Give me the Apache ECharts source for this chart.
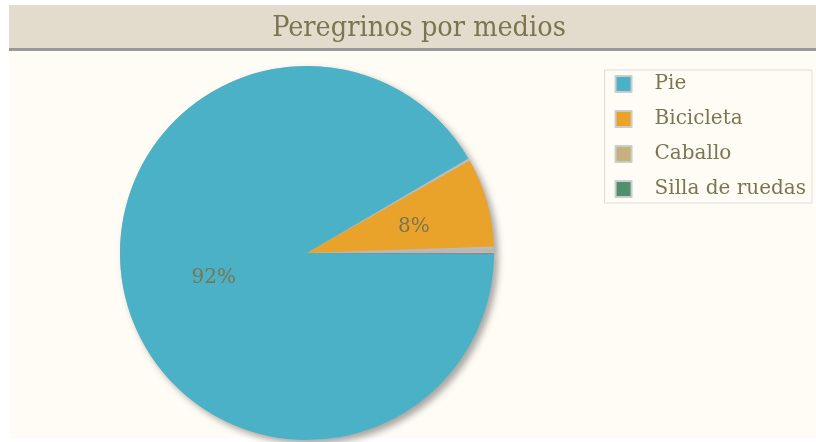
<!DOCTYPE html>
<html>
<head>
<meta charset="utf-8">
<script src="https://cdn.jsdelivr.net/npm/echarts@6/dist/echarts.min.js"></script>
<style>
  html, body { margin: 0; padding: 0; background: #ffffff; }
  #chart { width: 816px; height: 442px; }
</style>
</head>
<body>
<div id="chart"></div>
<script>
  // Chart data
  const titleText = 'Peregrinos por medios';
  const categories = ['Pie', 'Bicicleta', 'Caballo', 'Silla de ruedas'];
  const values = [91.9, 7.9, 0.1, 0.1];
  const colors = ['#4ab1c6', '#e9a22a', '#c7b07c', '#50906e'];

  const textColor = '#7d7552';
  const serif = '"DejaVu Serif Condensed", "DejaVu Serif", serif';
  const serifWide = '"DejaVu Serif", serif';

  const myChart = echarts.init(document.getElementById('chart'));

  const pieBase = {
    type: 'pie',
    center: [307, 253],
    radius: 187,
    startAngle: 0,
    clockwise: true,
    animation: false
  };

  const option = {
    backgroundColor: '#ffffff',
    color: colors,
    graphic: [
      // page area
      { type: 'rect', z: -10, shape: { x: 9, y: 5, width: 807, height: 433 }, style: { fill: '#fffcf5' } },
      // title bar
      { type: 'rect', z: -9, shape: { x: 9, y: 5, width: 807, height: 43 }, style: { fill: '#e3dccc' } },
      { type: 'rect', z: -9, shape: { x: 9, y: 48, width: 807, height: 3 }, style: { fill: '#999999' } }
    ],
    title: {
      text: titleText,
      left: 414,
      textAlign: 'center',
      top: 9,
      textStyle: {
        fontFamily: serif,
        fontWeight: 'normal',
        fontSize: 28.5,
        color: textColor
      }
    },
    legend: {
      orient: 'vertical',
      right: 4,
      top: 70,
      padding: [4, 6, 4, 10],
      borderColor: '#dddddd',
      borderWidth: 1,
      itemWidth: 16,
      itemHeight: 16,
      itemGap: 15,
      icon: 'rect',
      itemStyle: {
        borderColor: '#cccccc',
        borderWidth: 2
      },
      textStyle: {
        fontFamily: serifWide,
        fontSize: 20,
        color: textColor,
        padding: [0, 0, 0, 18]
      },
      data: categories
    },
    series: [
      // coloured slices
      {
        ...pieBase,
        name: 'Medios',
        z: 3,
        minShowLabelAngle: 5,
        padAngle: 0.8,
        itemStyle: { borderWidth: 0 },
        label: {
          position: 'inner',
          formatter: '{d}%',
          fontFamily: serifWide,
          fontSize: 20,
          color: textColor
        },
        percentPrecision: 0,
        labelLine: { show: false },
        data: categories.map((c, i) => ({
          name: c,
          value: values[i],
          label: i === 1 ? { offset: [14, 0] } : undefined
        }))
      },
      // shadow layer underneath
      {
        ...pieBase,
        name: 'sombra',
        z: 1,
        silent: true,
        legendHoverLink: false,
        itemStyle: {
          color: '#bdbdbd',
          borderWidth: 0,
          shadowBlur: 7,
          shadowOffsetX: 4,
          shadowOffsetY: 4,
          shadowColor: 'rgba(0,0,0,0.35)'
        },
        label: { show: false },
        labelLine: { show: false },
        emphasis: { disabled: true },
        data: categories.map((c, i) => ({ name: c, value: values[i] }))
      }
    ]
  };

  myChart.setOption(option);
</script>
</body>
</html>
